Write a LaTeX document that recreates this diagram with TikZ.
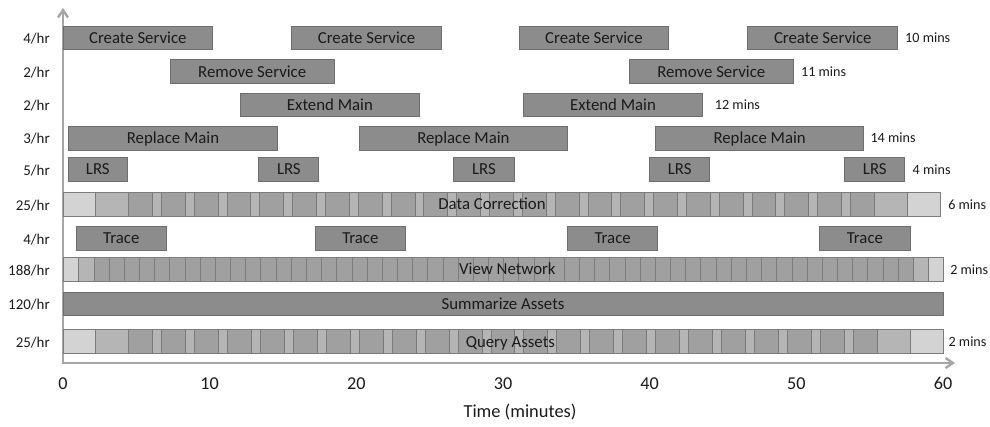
\documentclass[tikz,border=0pt]{standalone}
\usepackage{fontspec}
\setmainfont{Carlito}
\usetikzlibrary{arrows.meta,positioning}

\definecolor{boxfill}{HTML}{8C8C8C}
\definecolor{boxline}{HTML}{6E6E6E}
\definecolor{segfill}{HTML}{767676}
\definecolor{segline}{HTML}{7C7C7C}
\definecolor{axisgray}{HTML}{A6A6A6}
\definecolor{txt}{HTML}{1A1A1A}

\tikzset{
    lbl/.style={inner sep=0pt, font=\fontsize{12.6}{15}\selectfont, text height=8.1pt, text depth=0pt, text=txt},
    job/.style={lbl, draw=boxline, fill=boxfill, line width=0.75pt, minimum height=17.6pt},
    seg/.style={draw=segline, fill=segfill, fill opacity=0.32, line width=0.75pt},
    rate/.style={anchor=east, inner sep=0pt, font=\fontsize{11.2}{13}\selectfont, text height=7.2pt, text depth=0pt, text=txt},
    dur/.style={inner sep=0pt, font=\fontsize{10.6}{12}\selectfont, text height=6.8pt, text depth=0pt, text=txt},
    tick/.style={anchor=base, inner sep=0pt, font=\fontsize{13.6}{16}\selectfont, text=txt},
    axis/.style={draw=axisgray, line width=1.8pt,
        {Straight Barb[length=5.5pt,width=7.5pt]}-{Straight Barb[length=5.5pt,width=7.5pt]}}
}

\begin{document}
\begin{tikzpicture}[x=11pt, y=-0.75pt]
    \useasboundingbox (-4.2955,0) rectangle (63.205,427);

    \coordinate (ytop) at (0,8);
    \coordinate (origin) at (0,363);
    \coordinate (xend) at (60.82,363);
    \draw[axis] (ytop) -- (origin) -- (xend);

    \foreach \a/\b [count=\i] in {0/10.2, 15.6/25.8, 31.1/41.3, 46.7/56.9}{
        \pgfmathsetmacro\w{(\b-\a)*11}
        \node[job, minimum width=\w pt] (cs\i) at ({(\a+\b)/2},37.9) {Create Service};
    }
    \node[dur, right=5.2pt of cs4] (csd) {10 mins};

    \foreach \a/\b [count=\i] in {7.3/18.5, 38.6/49.8}{
        \pgfmathsetmacro\w{(\b-\a)*11}
        \node[job, minimum width=\w pt] (rs\i) at ({(\a+\b)/2},71.7) {Remove Service};
    }
    \node[dur, right=5.2pt of rs2] (rsd) {11 mins};

    \foreach \a/\b [count=\i] in {12.1/24.3, 31.4/43.6}{
        \pgfmathsetmacro\w{(\b-\a)*11}
        \node[job, minimum width=\w pt] (em\i) at ({(\a+\b)/2},105) {Extend Main};
    }
    \node[dur, right=8.8pt of em2] (emd) {12 mins};

    \foreach \a/\b [count=\i] in {0.4/14.6, 20.2/34.4, 40.4/54.6}{
        \pgfmathsetmacro\w{(\b-\a)*11}
        \node[job, minimum width=\w pt] (rm\i) at ({(\a+\b)/2},138.3) {Replace Main};
    }
    \node[dur, right=4.5pt of rm3] (rmd) {14 mins};

    \foreach \a/\b [count=\i] in {0.35/4.4, 13.35/17.45, 26.65/30.75, 40/44.1, 53.3/57.4}{
        \pgfmathsetmacro\w{(\b-\a)*11}
        \node[job, minimum width=\w pt] (lrs\i) at ({(\a+\b)/2},169.5) {LRS};
    }
    \node[dur, right=5.3pt of lrs5] (lrsd) {4 mins};

    \foreach \k in {0,...,24}
        \draw[seg] ({\k*2.2375},192.3) rectangle ++(6.1,24.4);
    \node[lbl] (dc) at (29.25,204.5) {Data Correction};
    \coordinate (dcend) at (59.8,204.5);
    \node[dur, right=6pt of dcend] (dcd) {6 mins};

    \foreach \a/\b [count=\i] in {0.9/7.05, 17.2/23.35, 34.4/40.55, 51.6/57.75}{
        \pgfmathsetmacro\w{(\b-\a)*11}
        \node[job, minimum width=\w pt] (tr\i) at ({(\a+\b)/2},238.3) {Trace};
    }

    \foreach \k in {0,...,55}
        \draw[seg] ({0.05+\k*1.0345},257.5) rectangle ++(3.1035,24);
    \node[lbl] (vn) at (30.3,269.5) {View Network};
    \coordinate (vnend) at (60.07,269.5);
    \node[dur, right=4.5pt of vnend] (vnd) {2 mins};

    \node[job, minimum width=660pt] (sa) at (30,304.2) {Summarize Assets};

    \foreach \k in {0,...,24}
        \draw[seg] ({\k*2.245},330) rectangle ++(6.12,24);
    \node[lbl] (qa) at (30.5,342) {Query Assets};
    \coordinate (qaend) at (60,342);
    \node[dur, right=4pt of qaend] (qad) {2 mins};

    \foreach \n/\y [count=\i] in {4/39, 2/72.5, 2/106, 3/139, 5/170.5, 25/205.5, 4/239.5, 188/270.5, 120/305, 25/343}
        \node[rate] (r\i) at (-0.886,\y) {\n/hr};

    \foreach \t in {0,10,...,60}
        \node[tick] (t\t) at (\t,390) {\t};
    \node[tick, font=\fontsize{13.8}{16}\selectfont] (xlabel) at (31.16,418) {Time (minutes)};
\end{tikzpicture}
\end{document}
